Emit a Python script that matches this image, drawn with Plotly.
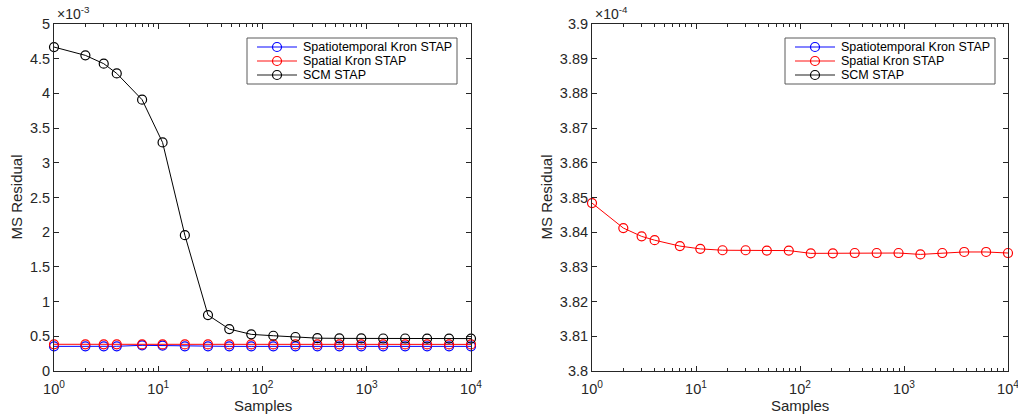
import plotly.graph_objects as go

samples = [1, 2, 3, 4, 7, 11, 18, 30, 48, 78, 127, 207, 336, 546, 886, 1438, 2336, 3793, 6158, 10000]

# MS residual values (raw units)
spatiotemporal_kron = [3.55e-4, 3.55e-4, 3.55e-4, 3.56e-4, 3.70e-4, 3.66e-4, 3.55e-4, 3.55e-4, 3.55e-4, 3.55e-4,
                       3.55e-4, 3.55e-4, 3.55e-4, 3.55e-4, 3.55e-4, 3.55e-4, 3.55e-4, 3.55e-4, 3.55e-4, 3.55e-4]
spatial_kron = [3.8484e-4, 3.8412e-4, 3.8388e-4, 3.8377e-4, 3.8360e-4, 3.8352e-4, 3.8348e-4, 3.8348e-4, 3.8347e-4, 3.8347e-4,
                3.8339e-4, 3.8339e-4, 3.8340e-4, 3.8340e-4, 3.8340e-4, 3.8336e-4, 3.8340e-4, 3.8343e-4, 3.8343e-4, 3.8340e-4]
scm = [4.668e-3, 4.548e-3, 4.428e-3, 4.288e-3, 3.909e-3, 3.293e-3, 1.957e-3, 0.806e-3, 0.604e-3, 0.528e-3,
       0.508e-3, 0.490e-3, 0.473e-3, 0.470e-3, 0.469e-3, 0.468e-3, 0.468e-3, 0.467e-3, 0.467e-3, 0.467e-3]

series_names = ["Spatiotemporal Kron STAP", "Spatial Kron STAP", "SCM STAP"]
series_colors = ["#0000ff", "#ff0000", "#000000"]
legend_line_colors = ["#5a5aff", "#ff6060", "#6a6a6a"]
series_values = [spatiotemporal_kron, spatial_kron, scm]

x_tickvals = [1, 10, 100, 1000, 10000]
x_ticktext = ["10<sup>0</sup>", "10<sup>1</sup>", "10<sup>2</sup>", "10<sup>3</sup>", "10<sup>4</sup>"]
x_minor = [m * d for d in (1, 10, 100, 1000) for m in range(2, 10)]
left_yticks = [0, 0.5, 1, 1.5, 2, 2.5, 3, 3.5, 4, 4.5, 5]
left_yticktext = ["0", "0.5", "1", "1.5", "2", "2.5", "3", "3.5", "4", "4.5", "5"]
right_yticks = [3.8, 3.81, 3.82, 3.83, 3.84, 3.85, 3.86, 3.87, 3.88, 3.89, 3.9]
right_yticktext = ["3.8", "3.81", "3.82", "3.83", "3.84", "3.85", "3.86", "3.87", "3.88", "3.89", "3.9"]
exponent_labels = ["×10<sup>-3</sup>", "×10<sup>-4</sup>"]

W, H = 1018, 414
FONT = "Liberation Sans, Arial, Helvetica, sans-serif"
AX = "#262626"
TICK_FS = 14.5

# panel pixel geometry
panels = [dict(left=54, right=471, ytitle_off=38), dict(left=592, right=1008, ytitle_off=46)]
TOP, BOTTOM = 24, 371
y_ranges = [[0, 5], [3.8, 3.9]]

def px(x):
    return x / W

def py(y):
    return 1 - y / H

fig = go.Figure()

for pi, scale in enumerate([1e3, 1e4]):
    sfx = "" if pi == 0 else "2"
    lo, hi = y_ranges[pi]
    for name, col, vals in zip(series_names, series_colors, series_values):
        ys = [v * scale for v in vals]
        inside = all(lo <= y <= hi for y in ys)
        fig.add_trace(go.Scatter(
            x=samples, y=ys, name=name, mode="lines+markers",
            line=dict(color=col, width=1),
            marker=dict(symbol="circle-open", size=9, color=col, line=dict(width=1.2, color=col)),
            xaxis="x" + sfx, yaxis="y" + sfx, showlegend=False, cliponaxis=not inside))

def xaxis(p, anchor):
    return dict(domain=[px(p["left"]), px(p["right"])], anchor=anchor, type="log", range=[0, 4],
                tickmode="array", tickvals=x_tickvals, ticktext=x_ticktext,
                ticks="inside", ticklen=5, tickcolor=AX, tickwidth=1,
                minor=dict(tickmode="array", tickvals=x_minor, ticks="inside", ticklen=3,
                           tickcolor=AX, tickwidth=1, showgrid=False),
                showline=True, linecolor=AX, linewidth=1, mirror="allticks",
                showgrid=False, zeroline=False, automargin=False,
                ticklabeloverflow="allow", ticklabelstandoff=5,
                tickfont=dict(family=FONT, size=TICK_FS, color=AX))

def yaxis(anchor, rng, tv, tt):
    return dict(domain=[py(BOTTOM), py(TOP)], anchor=anchor, range=rng,
                tickmode="array", tickvals=tv, ticktext=tt,
                ticks="inside", ticklen=5, tickcolor=AX, tickwidth=1,
                showline=True, linecolor=AX, linewidth=1, mirror="allticks",
                showgrid=False, zeroline=False, automargin=False,
                ticklabeloverflow="allow",
                tickfont=dict(family=FONT, size=TICK_FS, color=AX))

shapes = []
annotations = []
for pi, p in enumerate(panels):
    off = p["left"] - panels[0]["left"]
    # axis titles
    annotations.append(dict(text="Samples", x=px((p["left"] + p["right"]) / 2), y=py(405),
                            xref="paper", yref="paper", xanchor="center", yanchor="middle",
                            showarrow=False, font=dict(family=FONT, size=15, color=AX)))
    annotations.append(dict(text="MS Residual", x=px(p["left"] - p["ytitle_off"]), y=py((TOP + BOTTOM) / 2),
                            xref="paper", yref="paper", xanchor="center", yanchor="middle",
                            textangle=-90, showarrow=False, font=dict(family=FONT, size=15, color=AX)))
    # exponent label
    annotations.append(dict(text=exponent_labels[pi], x=px(p["left"] + 1), y=py(13),
                            xref="paper", yref="paper", xanchor="left", yanchor="middle",
                            showarrow=False, font=dict(family=FONT, size=14, color=AX)))
    # legend box
    bx0, bx1, by0, by1 = 247 + off, 457 + off, 38, 84
    shapes.append(dict(type="rect", xref="paper", yref="paper",
                       x0=px(bx0), x1=px(bx1), y0=py(by1), y1=py(by0),
                       fillcolor="white", line=dict(color="#5a5a5a", width=1), layer="above"))
    for ri, (name, lc, mc) in enumerate(zip(series_names, legend_line_colors, series_colors)):
        ry = 47 + 14 * ri
        shapes.append(dict(type="line", xref="paper", yref="paper",
                           x0=px(257 + off), x1=px(297 + off), y0=py(ry), y1=py(ry),
                           line=dict(color=lc, width=1.5), layer="above"))
        shapes.append(dict(type="circle", xref="paper", yref="paper",
                           x0=px(277 + off - 4.5), x1=px(277 + off + 4.5),
                           y0=py(ry + 4.5), y1=py(ry - 4.5),
                           fillcolor="rgba(0,0,0,0)", line=dict(color=mc, width=1.2), layer="above"))
        annotations.append(dict(text=name, x=px(301 + off), y=py(ry), xref="paper", yref="paper",
                                xanchor="left", yanchor="middle", showarrow=False,
                                font=dict(family=FONT, size=12.5, color="#000000")))

fig.update_layout(
    width=W, height=H, margin=dict(l=0, r=0, t=0, b=0, autoexpand=False),
    paper_bgcolor="white", plot_bgcolor="white",
    font=dict(family=FONT, color=AX),
    xaxis=xaxis(panels[0], "y"),
    yaxis=yaxis("x", y_ranges[0], left_yticks, left_yticktext),
    xaxis2=xaxis(panels[1], "y2"),
    yaxis2=yaxis("x2", y_ranges[1], right_yticks, right_yticktext),
    showlegend=False,
    shapes=shapes,
    annotations=annotations,
)

fig.write_html("out.html", config={"displayModeBar": False},
               post_script="document.body.style.margin='0';document.body.style.padding='0';"
                           "document.body.style.overflow='hidden';")
